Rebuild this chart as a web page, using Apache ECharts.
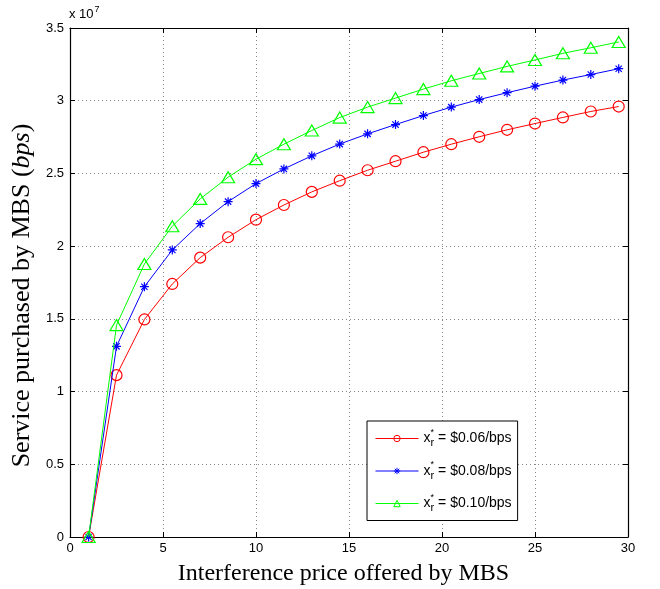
<!DOCTYPE html>
<html>
<head>
<meta charset="utf-8">
<script src="https://cdn.jsdelivr.net/npm/echarts@6/dist/echarts.min.js"></script>
<style>
html,body{margin:0;padding:0;background:#fff;}
#main{width:660px;height:589px;}
</style>
</head>
<body>
<div id="main"></div>
<script>
// Interference price offered by MBS (x values)
const xPrices = [1, 2.5, 4, 5.5, 7, 8.5, 10, 11.5, 13, 14.5, 16, 17.5, 19, 20.5, 22, 23.5, 25, 26.5, 28, 29.5];
// Service purchased by MBS, in units of 1e7 bps
const serviceR006 = [0, 1.113, 1.496, 1.740, 1.921, 2.061, 2.182, 2.283, 2.373, 2.450, 2.522, 2.584, 2.646, 2.701, 2.752, 2.800, 2.843, 2.885, 2.926, 2.960];
const serviceR008 = [0, 1.311, 1.721, 1.974, 2.155, 2.306, 2.430, 2.531, 2.621, 2.702, 2.772, 2.836, 2.898, 2.956, 3.008, 3.055, 3.100, 3.142, 3.180, 3.220];
const serviceR010 = [0, 1.457, 1.877, 2.137, 2.325, 2.474, 2.598, 2.701, 2.795, 2.884, 2.956, 3.018, 3.080, 3.137, 3.187, 3.236, 3.280, 3.326, 3.364, 3.404];
const legendPrices = ['$0.06/bps', '$0.08/bps', '$0.10/bps'];
const seriesColors = ['#ff0000', '#0000ff', '#00ff00'];
const xTicks = {min: 0, max: 30, interval: 5};
const yTicks = {min: 0, max: 3.5, interval: 0.5};

const asterisk = 'path://M0,-10L0,10M-10,0L10,0M-7,-7L7,7M-7,7L7,-7';
const triangle = 'path://M0,-10L10,7L-10,7Z';

function pairs(ys){ return xPrices.map((x,i)=>[x, ys[i]]); }

const chart = echarts.init(document.getElementById('main'), null, {renderer:'canvas'});
const sansFont = 'Liberation Sans, Arial, sans-serif';
const tickFont = {fontFamily:sansFont, fontSize:13, color:'#000'};
const serifFont = 'Liberation Serif, Times New Roman, serif';

const splitLine = {show:true, lineStyle:{color:'#888', type:[1,3], width:1}};
const axisLine = {show:true, onZero:false, lineStyle:{color:'#000', width:1.2}};
const axisTick = {show:true, inside:true, length:5, lineStyle:{color:'#000', width:1}};

const dataSets = [serviceR006, serviceR008, serviceR010];
const symbols = ['circle', asterisk, triangle];
const symbolSizes = [11, 9, [13, 11]];

const series = dataSets.map((d, i) => ({
  name: legendPrices[i],
  type: 'line',
  data: pairs(d),
  symbol: symbols[i],
  symbolSize: symbolSizes[i],
  showAllSymbol: true,
  lineStyle: {color: seriesColors[i], width: 1},
  itemStyle: i === 1
    ? {color: seriesColors[i], borderColor: seriesColors[i], borderWidth: 1.2}
    : {color: 'rgba(0,0,0,0)', borderColor: seriesColors[i], borderWidth: 1.2},
  emphasis: {disabled: true},
  animation: false,
  z: 3 + i
}));

chart.setOption({
  backgroundColor: '#fff',
  animation: false,
  grid: {left: 70, right: 32, top: 28, bottom: 52, containLabel: false, outerBoundsMode: 'none'},
  xAxis: [
    {type:'value', position:'bottom', min:xTicks.min, max:xTicks.max, interval:xTicks.interval,
     axisLine, axisTick, splitLine,
     axisLabel:{...tickFont, margin:5},
     name:'Interference price offered by MBS', nameLocation:'middle', nameGap:25,
     nameTextStyle:{fontFamily:serifFont, fontSize:24, color:'#000', padding:[0, 11, 0, 0]}},
    {type:'value', position:'top', min:xTicks.min, max:xTicks.max, interval:xTicks.interval,
     axisLine, axisTick, splitLine:{show:false}, axisLabel:{show:false}}
  ],
  yAxis: [
    {type:'value', position:'left', min:yTicks.min, max:yTicks.max, interval:yTicks.interval,
     axisLine, axisTick, splitLine,
     axisLabel:{...tickFont, margin:6},
     name:'{n|Service purchased by MBS (}{i|bps}{n|)}', nameLocation:'middle', nameGap:32,
     nameTextStyle:{padding:[0, 26, 0, 0], rich:{
       n:{fontFamily:serifFont, fontSize:26, color:'#000'},
       i:{fontFamily:serifFont, fontSize:26, fontStyle:'italic', color:'#000'}
     }}},
    {type:'value', position:'right', min:yTicks.min, max:yTicks.max, interval:yTicks.interval,
     axisLine, axisTick, splitLine:{show:false}, axisLabel:{show:false}}
  ],
  legend: {
    show: true,
    orient: 'vertical',
    left: 367, top: 421,
    padding: [7, 6, 7, 8],
    itemGap: 12,
    itemWidth: 43,
    itemHeight: 8,
    backgroundColor: '#fff',
    borderColor: '#000',
    borderWidth: 1,
    borderRadius: 0,
    selectedMode: false,
    lineStyle: {width: 1},
    itemStyle: {borderWidth: 1},
    data: legendPrices,
    formatter: function(name){
      return '{x|x}{s|*}{r|r}{t| = ' + name + '}';
    },
    textStyle: {
      rich: {
        x: {fontFamily:sansFont, fontSize:14, color:'#000', verticalAlign:'middle'},
        s: {fontFamily:sansFont, fontSize:9, color:'#000', width:0.01, padding:[0,0,12,0], verticalAlign:'middle'},
        r: {fontFamily:sansFont, fontSize:11, color:'#000', padding:[9,0,0,0], verticalAlign:'middle'},
        t: {fontFamily:sansFont, fontSize:14, color:'#000', verticalAlign:'middle'}
      }
    }
  },
  graphic: [
    {type:'text', left: 69, top: 5,
     style:{text:'{a|x 10}{b|7}', rich:{
       a:{fontFamily:sansFont, fontSize:13, fill:'#000', padding:[6,0,0,0], verticalAlign:'middle'},
       b:{fontFamily:sansFont, fontSize:9, fill:'#000', padding:[0,0,4,1], verticalAlign:'middle'}
     }}}
  ],
  series
});
</script>
</body>
</html>
